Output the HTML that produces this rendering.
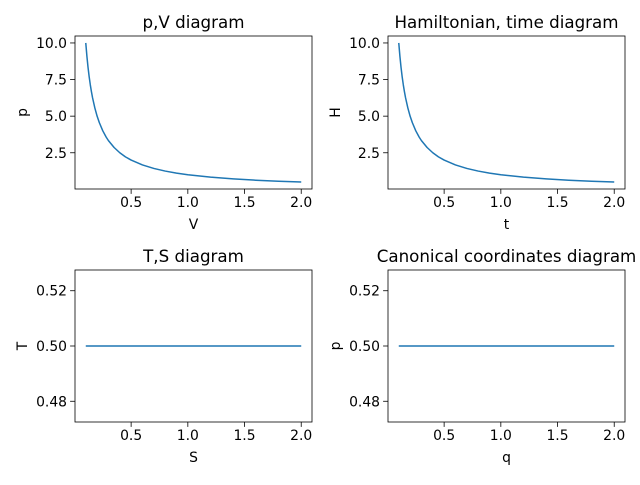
<!DOCTYPE html>
<html><head><meta charset="utf-8"><style>
body{margin:0;background:#fff;}
svg text{font-family:"DejaVu Sans","Liberation Sans",sans-serif;fill:#000;}
</style></head><body>
<svg id="fig" width="640" height="480" viewBox="0 0 640 480"></svg>
<script>
const curveX=[0.1,0.11,0.12,0.13,0.14,0.15,0.16,0.18,0.2,0.22,0.25,0.28,0.3,0.35,0.4,0.45,0.5,0.6,0.7,0.8,0.9,1.0,1.2,1.4,1.6,1.8,2.0];
const curveY=[10,9.09,8.33,7.69,7.14,6.67,6.25,5.56,5,4.55,4,3.57,3.33,2.86,2.5,2.22,2,1.67,1.43,1.25,1.11,1,0.833,0.714,0.625,0.556,0.5];
const flatX=[0.1,2.0];
const flatY=[0.5,0.5];
const xTicks=[0.5,1.0,1.5,2.0];
const xTickLabels=["0.5","1.0","1.5","2.0"];
const topYTicks=[2.5,5.0,7.5,10.0];
const topYTickLabels=["2.5","5.0","7.5","10.0"];
const botYTicks=[0.48,0.50,0.52];
const botYTickLabels=["0.48","0.50","0.52"];

const NS="http://www.w3.org/2000/svg";
const svg=document.getElementById('fig');
function mk(tag,attrs,parent){const e=document.createElementNS(NS,tag);for(const k in attrs)e.setAttribute(k,attrs[k]);(parent||svg).appendChild(e);return e;}

function panel(name,box,xd,yd,xs,ys,yt,ytl,title,xl,yl){
  const g=mk('g',{});
  
  
  const [L,T,R,B]=box;
  const sx=v=>L+(v-xd[0])/(xd[1]-xd[0])*(R-L);
  const sy=v=>B-(v-yd[0])/(yd[1]-yd[0])*(B-T);
  const pts=xs.map((x,i)=>sx(x).toFixed(2)+','+sy(ys[i]).toFixed(2)).join(' ');
  const line=mk('polyline',{points:pts,fill:'none',stroke:'#1f77b4','stroke-width':1.5,'stroke-linejoin':'round'},g);
  
  
  const frame=mk('rect',{x:L,y:T,width:R-L,height:B-T,fill:'none',stroke:'#000','stroke-width':0.8},g);
  
  
  xTicks.forEach((v,i)=>{const x=sx(v);
    mk('line',{x1:x,x2:x,y1:B,y2:B+4.9,stroke:'#000','stroke-width':0.8},g);
    const t=mk('text',{x:x,y:B+18,'font-size':13.9,'text-anchor':'middle'},g);t.textContent=xTickLabels[i];
    
    });
  yt.forEach((v,i)=>{const y=sy(v);
    mk('line',{x1:L-4.9,x2:L,y1:y,y2:y,stroke:'#000','stroke-width':0.8},g);
    const t=mk('text',{x:L-8,y:y+5,'font-size':13.9,'text-anchor':'end'},g);t.textContent=ytl[i];
    
    });
  const tt=mk('text',{x:(L+R)/2,y:T-8,'font-size':16.7,'text-anchor':'middle'},g);tt.textContent=title;
  
  
  const xlab=mk('text',{x:(L+R)/2,y:B+40,'font-size':13.9,'text-anchor':'middle'},g);xlab.textContent=xl;
  
  
  const cy=(T+B)/2,cx=L-48;
  const ylab=mk('text',{x:cx,y:cy,'font-size':13.9,'text-anchor':'middle',transform:`rotate(-90 ${cx} ${cy})`},g);ylab.textContent=yl;
  
  
}
const xd=[0.005,2.095];
panel('pv-diagram',[75,36,312,189],xd,[0.025,10.475],curveX,curveY,topYTicks,topYTickLabels,'p,V diagram','V','p');
panel('hamiltonian-time-diagram',[388,36,625,189],xd,[0.025,10.475],curveX,curveY,topYTicks,topYTickLabels,'Hamiltonian, time diagram','t','H');
panel('ts-diagram',[75,270,312,422],xd,[0.4725,0.5275],flatX,flatY,botYTicks,botYTickLabels,'T,S diagram','S','T');
panel('canonical-coordinates-diagram',[388,270,625,422],xd,[0.4725,0.5275],flatX,flatY,botYTicks,botYTickLabels,'Canonical coordinates diagram','q','p');
</script>
</body></html>
